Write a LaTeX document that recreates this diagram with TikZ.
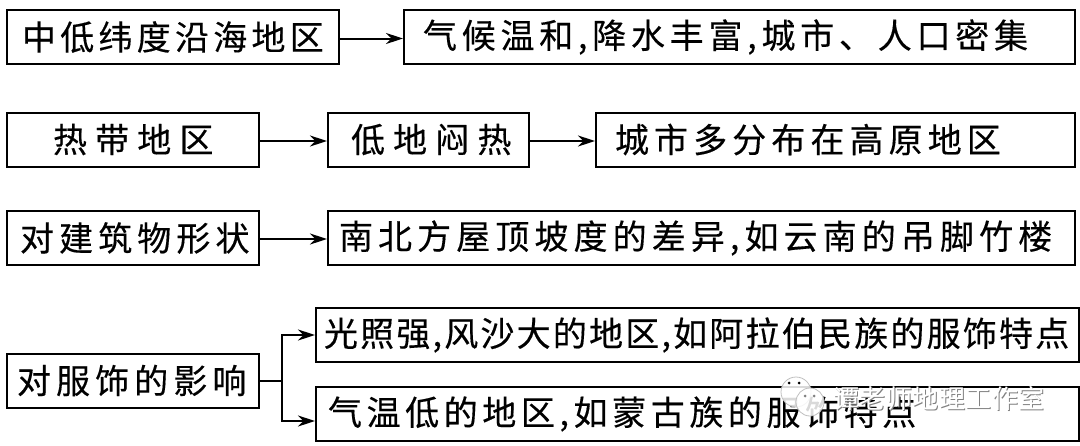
\documentclass[tikz,border=0pt]{standalone}
\usepackage{fontspec}
\usetikzlibrary{arrows.meta}
\newfontfamily\cjk{Noto Sans CJK SC}
\newcommand{\spaced}[1]{\addfontfeatures{LetterSpace=#1,FakeBold=.35}}
\tikzset{
	textbox/.style 2 args={draw=black,line width=2pt,anchor=west,align=left,
		inner ysep=0pt,inner xsep=#1,text width=#2-2*#1,minimum height=54pt,
		font=\fontsize{34pt}{38pt}\selectfont\cjk},
	link/.style={line width=2pt,-{Stealth[length=17pt,width=11pt]}},
	stem/.style={line width=2pt},
	marktext/.style={font=\fontsize{26pt}{28pt}\selectfont\cjk\addfontfeatures{LetterSpace=2},inner sep=0pt},
	markdisc/.style={draw=gray!50,line width=.8pt,fill=white,fill opacity=.85},
	markeye/.style={fill=black,inner sep=0pt,minimum size=3pt,circle},
}
\begin{document}
\begin{tikzpicture}[x=1pt,y=-1pt]
	\useasboundingbox (0,0) rectangle (1080,445);
	\node[textbox={15pt}{332pt}] (coast) at (6,37)
		{\spaced{12.5}中低纬度沿海地区};
	\node[textbox={19pt}{671pt}] (mild) at (403,37)
		{\spaced{14}气候温和,降水丰富,城市、人口密集};
	\node[textbox={46pt}{252pt}] (tropic) at (6,139.5)
		{\spaced{24}热带地区};
	\node[textbox={23pt}{201pt}] (lowland) at (327,139.5)
		{\spaced{24}低地闷热};
	\node[textbox={19pt}{479pt}] (plateau) at (595,139.5)
		{\spaced{15}城市多分布在高原地区};
	\node[textbox={13pt}{252pt}] (shape) at (6,238)
		{\spaced{15}对建筑物形状};
	\node[textbox={11pt}{747pt}] (roof) at (327,238)
		{\spaced{15}南北方屋顶坡度的差异,如云南的吊脚竹楼};
	\node[textbox={10pt}{252pt}] (dress) at (6,380.5)
		{\spaced{15}对服饰的影响};
	\node[textbox={8pt}{763pt}] (sunny) at (315,335)
		{\spaced{6.5}光照强,风沙大的地区,如阿拉伯民族的服饰特点};
	\node[textbox={12pt}{763pt}] (cold) at (315,414)
		{\spaced{13.5}气温低的地区,如蒙古族的服饰特点};
	\coordinate (fork) at (282,380.5);
	\coordinate (coldin) at ([yshift=-7pt]cold.west);
	\draw[link] ([yshift=-1.5pt]coast.east) -- ([yshift=-1.5pt]mild.west);
	\draw[link] ([yshift=-1.5pt]tropic.east) -- ([yshift=-1.5pt]lowland.west);
	\draw[link] ([yshift=-1.5pt]lowland.east) -- ([yshift=-1.5pt]plateau.west);
	\draw[link] ([yshift=-1pt]shape.east) -- ([yshift=-1pt]roof.west);
	\draw[stem] (dress.east) -- (fork);
	\draw[link] (fork) |- (sunny.west);
	\draw[link] (fork) |- (coldin);
	\node[markdisc,circle,minimum size=30pt,inner sep=0pt] (bigdisc) at (796,392) {};
	\node[markdisc,circle,minimum size=28pt,inner sep=0pt] (smalldisc) at (810,402) {};
	\node[markeye] (eyea) at (789,383) {};
	\node[markeye] (eyeb) at (799,383) {};
	\node[markeye,fill=gray] (eyec) at (805,396) {};
	\node[markeye,fill=gray] (eyed) at (814,396) {};
	\node[marktext,text=gray,anchor=west] (markshade) at (834,399)
		{谭老师地理工作室};
	\node[marktext,text=white,anchor=west] (mark) at (833,398)
		{谭老师地理工作室};
\end{tikzpicture}
\end{document}
